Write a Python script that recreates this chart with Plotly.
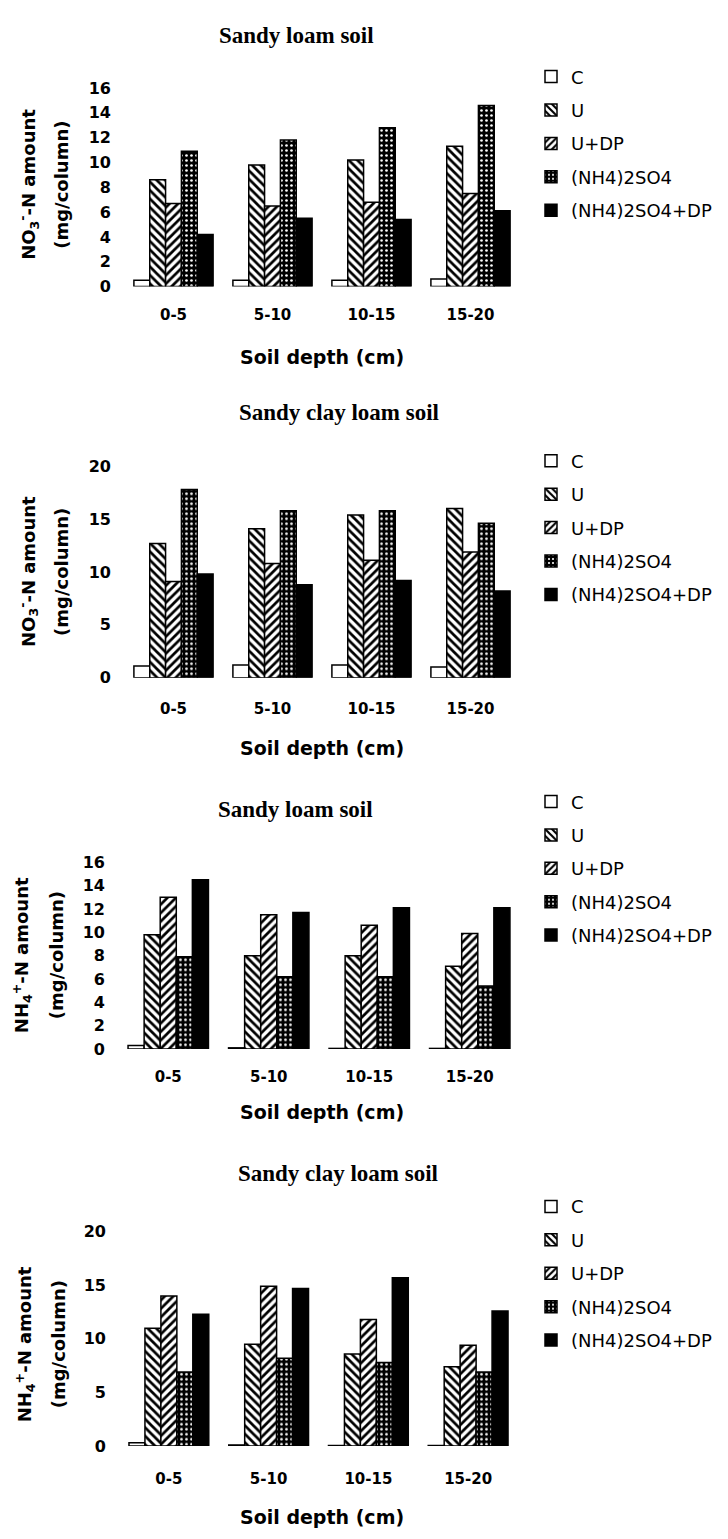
import plotly.graph_objects as go

# ---------------- data ----------------
depths = ["0-5", "5-10", "10-15", "15-20"]
treatments = ["C", "U", "U+DP", "(NH4)2SO4", "(NH4)2SO4+DP"]

# NO3- -N, sandy loam soil
no3_sl_C = [0.5, 0.5, 0.5, 0.6]
no3_sl_U = [8.6, 9.8, 10.2, 11.3]
no3_sl_UDP = [6.7, 6.5, 6.8, 7.5]
no3_sl_AS = [10.9, 11.8, 12.8, 14.6]
no3_sl_ASDP = [4.2, 5.5, 5.4, 6.1]

# NO3- -N, sandy clay loam soil
no3_scl_C = [1.1, 1.2, 1.2, 1.0]
no3_scl_U = [12.7, 14.1, 15.4, 16.0]
no3_scl_UDP = [9.1, 10.8, 11.1, 11.9]
no3_scl_AS = [17.8, 15.8, 15.8, 14.6]
no3_scl_ASDP = [9.8, 8.8, 9.2, 8.2]

# NH4+ -N, sandy loam soil
nh4_sl_C = [0.3, 0.1, 0.05, 0.05]
nh4_sl_U = [9.8, 8.0, 8.0, 7.1]
nh4_sl_UDP = [13.0, 11.5, 10.6, 9.9]
nh4_sl_AS = [7.9, 6.2, 6.2, 5.4]
nh4_sl_ASDP = [14.5, 11.7, 12.1, 12.1]

# NH4+ -N, sandy clay loam soil
nh4_scl_C = [0.3, 0.1, 0.05, 0.05]
nh4_scl_U = [11.0, 9.5, 8.6, 7.4]
nh4_scl_UDP = [14.0, 14.9, 11.8, 9.4]
nh4_scl_AS = [6.9, 8.2, 7.8, 6.9]
nh4_scl_ASDP = [12.3, 14.7, 15.7, 12.6]

panel_titles = ["Sandy loam soil", "Sandy clay loam soil", "Sandy loam soil", "Sandy clay loam soil"]
panel_ylabels = ["NO<sub>3</sub><sup>-</sup>-N amount", "NO<sub>3</sub><sup>-</sup>-N amount",
                 "NH<sub>4</sub><sup>+</sup>-N amount", "NH<sub>4</sub><sup>+</sup>-N amount"]
ylabel2 = "(mg/column)"
xlabel = "Soil depth (cm)"
panel_ymax = [16, 20, 16, 20]
panel_dtick = [2, 5, 2, 5]

panel_series = [
    [no3_sl_C, no3_sl_U, no3_sl_UDP, no3_sl_AS, no3_sl_ASDP],
    [no3_scl_C, no3_scl_U, no3_scl_UDP, no3_scl_AS, no3_scl_ASDP],
    [nh4_sl_C, nh4_sl_U, nh4_sl_UDP, nh4_sl_AS, nh4_sl_ASDP],
    [nh4_scl_C, nh4_scl_U, nh4_scl_UDP, nh4_scl_AS, nh4_scl_ASDP],
]

# ---------------- layout geometry (pixels) ----------------
W, H = 728, 1539
def px(x):
    return x / W
def py(y):
    return 1 - y / H

geom = [
    dict(x0=124, x1=520, yb=281, yt=80, tx=296, ty=27, xty=352, yl1=28, yl2=62, yly=178, xts=17, lt=50),
    dict(x0=124, x1=520, yb=677, yt=463, tx=339, ty=409, xty=748, yl1=28, yl2=62, yly=570, xts=20, lt=439),
    dict(x0=118, x1=520, yb=1053, yt=864, tx=295, ty=810, xty=1117, yl1=22, yl2=56, yly=958, xts=17, lt=784),
    dict(x0=119, x1=518, yb=1455, yt=1238, tx=338, ty=1179, xty=1527, yl1=25, yl2=58, yly=1352, xts=22, lt=1194),
]

styles = [
    dict(color="white", pattern=None),
    dict(color="white", pattern=dict(shape="\\", fgcolor="black", bgcolor="white", size=6, solidity=0.45, fillmode="replace")),
    dict(color="white", pattern=dict(shape="/", fgcolor="black", bgcolor="white", size=6, solidity=0.45, fillmode="replace")),
    dict(color="black", pattern=dict(shape=".", fgcolor="white", bgcolor="black", size=5, solidity=0.22, fillmode="replace")),
    dict(color="black", pattern=None),
]

SANS = "DejaVu Sans"
SERIF = "Liberation Serif"

fig = go.Figure()
annotations = []
layout_extra = {}

for i, series in enumerate(panel_series):
    n = "" if i == 0 else str(i + 1)
    leg = "legend" + n
    for j, vals in enumerate(series):
        st = styles[j]
        marker = dict(color=st["color"], line=dict(color="black", width=1.5))
        if st["pattern"] is not None:
            marker["pattern"] = st["pattern"]
        fig.add_trace(go.Bar(
            x=depths, y=vals, name=treatments[j],
            xaxis="x" + n, yaxis="y" + n,
            legend=leg, legendgroup=f"{leg}_{j}",
            marker=marker,
        ))
    g = geom[i]
    layout_extra["xaxis" + n] = dict(
        domain=[px(g["x0"]), px(g["x1"])], anchor="y" + n, type="category",
        showline=False, showgrid=False, zeroline=False, ticks="",
        tickfont=dict(family=SANS, size=15, color="black", weight="bold"),
        ticklabelstandoff=g["xts"],
    )
    layout_extra["yaxis" + n] = dict(
        domain=[py(g["yb"]), py(g["yt"])], anchor="x" + n,
        range=[0, panel_ymax[i]], dtick=panel_dtick[i], tick0=0,
        showline=False, showgrid=False, zeroline=False, ticks="",
        tickfont=dict(family=SANS, size=16, color="black", weight="bold"),
        ticklabelstandoff=12,
    )
    layout_extra[leg] = dict(
        x=px(531), y=py(g["lt"]), xanchor="left", yanchor="top",
        font=dict(family=SANS, size=18, color="black"),
        tracegroupgap=7, bgcolor="rgba(0,0,0,0)", borderwidth=0,
        traceorder="grouped",
    )
    annotations.append(dict(text=panel_titles[i], x=px(g["tx"]), y=py(g["ty"]),
                            xref="paper", yref="paper", showarrow=False,
                            xanchor="center", yanchor="middle",
                            font=dict(family=SERIF, size=23, color="black", weight="bold")))
    annotations.append(dict(text=xlabel, x=px(322), y=py(g["xty"]),
                            xref="paper", yref="paper", showarrow=False,
                            xanchor="center", yanchor="middle",
                            font=dict(family=SANS, size=19, color="black", weight="bold")))
    annotations.append(dict(text=panel_ylabels[i], x=px(g["yl1"]), y=py(g["yly"]),
                            xref="paper", yref="paper", showarrow=False, textangle=-90,
                            xanchor="center", yanchor="middle",
                            font=dict(family=SANS, size=18, color="black", weight="bold")))
    annotations.append(dict(text=ylabel2, x=px(g["yl2"]), y=py(g["yly"]),
                            xref="paper", yref="paper", showarrow=False, textangle=-90,
                            xanchor="center", yanchor="middle",
                            font=dict(family=SANS, size=18, color="black", weight="bold")))

fig.update_layout(
    width=W, height=H, autosize=False,
    margin=dict(l=0, r=0, t=0, b=0),
    paper_bgcolor="white", plot_bgcolor="white",
    barmode="group", bargap=0.2, bargroupgap=0,
    annotations=annotations,
    showlegend=True,
    **layout_extra,
)

fig.write_html("out.html")
